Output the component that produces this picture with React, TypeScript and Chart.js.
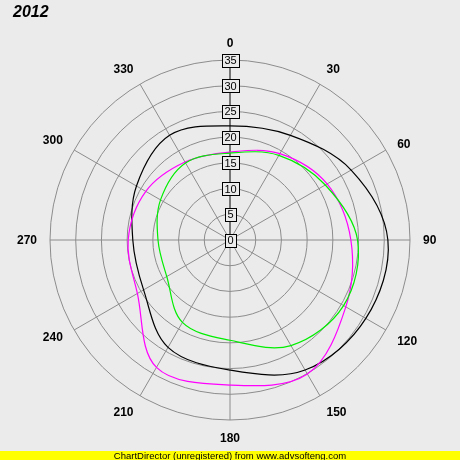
import React, { useEffect, useRef } from "react";
import { Chart, registerables } from "chart.js";

Chart.register(...registerables);

const angleLabels = ["0", "30", "60", "90", "120", "150", "180", "210", "240", "270", "300", "330"];
const blackSeries = [22.2, 23.5, 27.2, 30.7, 30.5, 29.2, 25.3, 24.1, 19.4, 18.9, 21.0, 23.5];
const magentaSeries = [17.1, 19.4, 21.8, 23.5, 26.0, 30.1, 28.2, 28.6, 20.8, 19.8, 18.9, 17.5];
const greenSeries = [16.9, 19.0, 21.4, 24.8, 25.5, 23.7, 19.5, 18.5, 14.2, 14.0, 15.6, 17.3];
const radialMax = 35;
const radialStep = 5;

const BG = "#ebebeb";

const labelsPlugin = {
  id: "polarLabels",
  afterDatasetsDraw(chart: any) {
    const scale = chart.scales.r;
    const ctx = chart.ctx;
    ctx.save();
    // angular labels, anchored ChartDirector-style at the outer edge
    ctx.font = "bold 12px Arial, 'Liberation Sans', sans-serif";
    ctx.fillStyle = "#000";
    ctx.textBaseline = "alphabetic";
    const capH = 8.7;
    const n = angleLabels.length;
    angleLabels.forEach((lab, i) => {
      const deg = (360 * i) / n;
      const p = scale.getPointPosition(i, scale.drawingArea + 13);
      let align: CanvasTextAlign = "center";
      if (deg > 0.1 && deg < 179.9) align = "left";
      else if (deg > 180.1) align = "right";
      const sh = (deg + 15) % 360;
      let by = p.y + capH / 2;
      if (sh <= 45 || sh >= 315) by = p.y;
      else if (sh >= 135 && sh <= 225) by = p.y + capH;
      ctx.textAlign = align;
      ctx.fillText(lab, p.x, by);
    });
    // radial tick labels in boxes
    ctx.font = "11px Arial, 'Liberation Sans', sans-serif";
    ctx.textAlign = "center";
    ctx.textBaseline = "middle";
    scale.ticks.forEach((t: any) => {
      const d = scale.getDistanceFromCenterForValue(t.value);
      const x = scale.xCenter;
      const y = scale.yCenter - d;
      const txt = String(t.value);
      const w = Math.ceil(ctx.measureText(txt).width) + 4;
      const h = 13;
      const bx = Math.round(x - w / 2) + 0.5;
      const by = Math.round(y - h / 2) + 0.5;
      ctx.fillStyle = BG;
      ctx.fillRect(bx, by, w, h);
      ctx.strokeStyle = "#000";
      ctx.lineWidth = 1;
      ctx.strokeRect(bx, by, w, h);
      ctx.fillStyle = "#000";
      ctx.fillText(txt, x + 0.5, y + 1);
    });
    ctx.restore();
  },
};

export default function App() {
  const ref = useRef<HTMLCanvasElement | null>(null);
  useEffect(() => {
    document.body.style.margin = "0";
    if (!ref.current) return;
    const chart = new Chart(ref.current, {
      type: "radar",
      data: {
        labels: angleLabels,
        datasets: [
          { data: greenSeries, borderColor: "#00ee00", borderWidth: 1.2, fill: false, pointRadius: 0, tension: 0.35 },
          { data: magentaSeries, borderColor: "#ff00ff", borderWidth: 1.2, fill: false, pointRadius: 0, tension: 0.35 },
          { data: blackSeries, borderColor: "#000000", borderWidth: 1.2, fill: false, pointRadius: 0, tension: 0.35 },
        ],
      },
      options: {
        responsive: false,
        animation: false,
        layout: { padding: { left: 50, right: 50, top: 60, bottom: 40 } },
        plugins: { legend: { display: false }, tooltip: { enabled: false } },
        scales: {
          r: {
            min: 0,
            max: radialMax,
            ticks: { stepSize: radialStep, display: false },
            pointLabels: { display: false },
            grid: { circular: true, color: "#8c8c8c", lineWidth: 1 },
            angleLines: {
              color: (c: any) => (c.index === 0 ? "#000000" : "#8c8c8c"),
              lineWidth: 1,
            },
          },
        },
      },
      plugins: [labelsPlugin],
    });
    return () => chart.destroy();
  }, []);
  return (
    <div style={{ position: "relative", width: 460, height: 460, background: BG, overflow: "hidden" }}>
      <canvas ref={ref} width={460} height={460} style={{ position: "absolute", left: 0, top: 0 }} />
      <div
        style={{
          position: "absolute",
          left: 13,
          top: 3,
          font: "italic bold 16px Arial, 'Liberation Sans', sans-serif",
          color: "#000",
        }}
      >
        2012
      </div>
      <div
        style={{
          position: "absolute",
          left: 0,
          top: 451,
          width: 460,
          height: 9,
          background: "#ffff00",
          font: "9.5px Arial, 'Liberation Sans', sans-serif",
          lineHeight: "9px",
          textAlign: "center",
          color: "#000",
        }}
      >
        ChartDirector (unregistered) from www.advsofteng.com
      </div>
    </div>
  );
}
